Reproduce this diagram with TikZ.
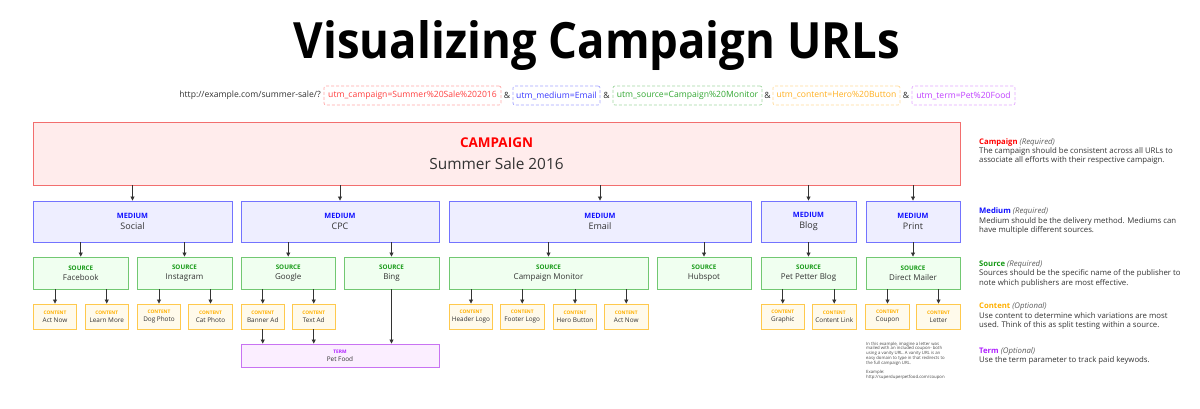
\documentclass[tikz,border=0pt]{standalone}
\usepackage{fontspec}
\setmainfont{Open Sans}
\usepackage{graphicx}
\usetikzlibrary{arrows.meta}
\definecolor{txt}{HTML}{333333}
\definecolor{campB}{HTML}{F26E6E}
\definecolor{campF}{HTML}{FFECEC}
\definecolor{campL}{HTML}{FF0000}
\definecolor{medB}{HTML}{7373FF}
\definecolor{medF}{HTML}{EEEEFF}
\definecolor{medL}{HTML}{1010FF}
\definecolor{srcB}{HTML}{72C872}
\definecolor{srcF}{HTML}{F0FFF0}
\definecolor{srcL}{HTML}{169A16}
\definecolor{conB}{HTML}{FFC94D}
\definecolor{conF}{HTML}{FFFAEB}
\definecolor{conL}{HTML}{FFB000}
\definecolor{termB}{HTML}{C873F2}
\definecolor{termF}{HTML}{FBEEFF}
\definecolor{termL}{HTML}{B020FF}
\definecolor{arrc}{HTML}{333333}
\definecolor{urlR}{HTML}{FF4040}
\definecolor{urlB}{HTML}{3A3AFF}
\definecolor{urlG}{HTML}{33A833}
\definecolor{urlO}{HTML}{FFB020}
\definecolor{urlP}{HTML}{C040FF}
\newcommand\blab[3]{{\fontsize{#2}{#2}\selectfont\bfseries\color{#1}#3}}
\newcommand\nhead[3]{{\fontsize{7.7}{9.3}\selectfont\bfseries\color{#1}#2} {\itshape\color{txt!80}(#3)}}
\begin{document}
\begin{tikzpicture}[x=1pt,y=-1pt,
  box/.style={draw, line width=0.9pt, inner sep=0pt, align=center, text=txt},
  campbox/.style={box, draw=campB, fill=campF, font=\fontsize{15.4}{22.3}\selectfont},
  medbox/.style={box, draw=medB, fill=medF, font=\fontsize{9}{11.7}\selectfont, minimum height=41pt},
  srcbox/.style={box, draw=srcB, fill=srcF, font=\fontsize{8}{10}\selectfont, minimum height=32pt},
  conbox/.style={box, draw=conB, fill=conF, font=\fontsize{6.4}{7.7}\selectfont, minimum width=43.5pt, minimum height=25pt},
  termbox/.style={box, draw=termB, fill=termF, font=\fontsize{6.4}{7.7}\selectfont},
  arr/.style={draw=arrc, line width=0.8pt, -{Triangle[length=4pt,width=4pt]}},
  urlbox/.style={draw=#1!45, text=#1, dash pattern=on 3pt off 2pt, line width=0.7pt, rounded corners=2pt, minimum height=19pt, inner sep=0pt, font=\fontsize{8.6}{10}\selectfont},
  urltxt/.style={text=txt, inner sep=0pt, font=\fontsize{8.6}{10}\selectfont},
  note/.style={anchor=north west, inner sep=0pt, align=left, text=txt, font=\fontsize{7.8}{9.3}\selectfont}
]
\useasboundingbox[fill=white] (0,0) rectangle (1200,409);

% title
\node[anchor=base, inner sep=0pt] (title) at (597,59) {\resizebox{606pt}{38pt}{\bfseries Visualizing Campaign URLs}};

% url line
\node[urltxt, anchor=east] (u0) at (321,95.5) {http://example.com/summer-sale/?};
\node[urlbox=urlR, minimum width=177pt] (u1) at (412.5,95.5) {utm\_campaign=Summer\%20Sale\%202016};
\node[urltxt] (a1) at (507,95.5) {\&};
\node[urlbox=urlB, minimum width=87pt] (u2) at (556.5,95.5) {utm\_medium=Email};
\node[urltxt] (a2) at (606.5,95.5) {\&};
\node[urlbox=urlG, minimum width=149pt] (u3) at (687.5,95.5) {utm\_source=Campaign\%20Monitor};
\node[urltxt] (a3) at (767.5,95.5) {\&};
\node[urlbox=urlO, minimum width=127pt] (u4) at (836.5,95.5) {utm\_content=Hero\%20Button};
\node[urltxt] (a4) at (906,95.5) {\&};
\node[urlbox=urlP, minimum width=103pt] (u5) at (963.5,95.5) {utm\_term=Pet\%20Food};

% campaign
\node[campbox, minimum width=927pt, minimum height=63pt] (camp) at (496.5,153.5)
  {\blab{campL}{13.5}{CAMPAIGN}\\Summer Sale 2016};

% mediums
\node[medbox, minimum width=199pt] (social) at (132.5,221.5) {\blab{medL}{7.3}{MEDIUM}\\Social};
\node[medbox, minimum width=198pt] (cpc) at (340,221.5) {\blab{medL}{7.3}{MEDIUM}\\CPC};
\node[medbox, minimum width=302pt] (email) at (600,221.5) {\blab{medL}{7.3}{MEDIUM}\\Email};
\node[medbox, minimum width=95pt] (blog) at (808.5,221.5) {\blab{medL}{7.3}{MEDIUM}\\Blog};
\node[medbox, minimum width=94pt] (print) at (913,221.5) {\blab{medL}{7.3}{MEDIUM}\\Print};

% sources
\node[srcbox, minimum width=95.5pt] (facebook) at (80.75,273) {\blab{srcL}{6.3}{SOURCE}\\Facebook};
\node[srcbox, minimum width=95pt] (instagram) at (184.5,273) {\blab{srcL}{6.3}{SOURCE}\\Instagram};
\node[srcbox, minimum width=94.5pt] (google) at (288.25,273) {\blab{srcL}{6.3}{SOURCE}\\Google};
\node[srcbox, minimum width=95pt] (bing) at (391.5,273) {\blab{srcL}{6.3}{SOURCE}\\Bing};
\node[srcbox, minimum width=199pt] (cmon) at (548.5,273) {\blab{srcL}{6.3}{SOURCE}\\Campaign Monitor};
\node[srcbox, minimum width=94pt] (hubspot) at (704,273) {\blab{srcL}{6.3}{SOURCE}\\Hubspot};
\node[srcbox, minimum width=95pt] (ppblog) at (808.5,273) {\blab{srcL}{6.3}{SOURCE}\\Pet Petter Blog};
\node[srcbox, minimum width=94pt] (dmail) at (913,273) {\blab{srcL}{6.3}{SOURCE}\\Direct Mailer};

% contents
\node[conbox] (c1) at (55,316.5) {\blab{conL}{4.8}{CONTENT}\\Act Now};
\node[conbox] (c2) at (106.75,316.5) {\blab{conL}{4.8}{CONTENT}\\Learn More};
\node[conbox] (c3) at (159,316.5) {\blab{conL}{4.8}{CONTENT}\\Dog Photo};
\node[conbox] (c4) at (210.5,316.5) {\blab{conL}{4.8}{CONTENT}\\Cat Photo};
\node[conbox] (c5) at (262.75,316.5) {\blab{conL}{4.8}{CONTENT}\\Banner Ad};
\node[conbox] (c6) at (313.75,316.5) {\blab{conL}{4.8}{CONTENT}\\Text Ad};
\node[conbox] (c7) at (471,316.5) {\blab{conL}{4.8}{CONTENT}\\Header Logo};
\node[conbox] (c8) at (522.25,316.5) {\blab{conL}{4.8}{CONTENT}\\Footer Logo};
\node[conbox] (c9) at (575,316.5) {\blab{conL}{4.8}{CONTENT}\\Hero Button};
\node[conbox] (c10) at (626.25,316.5) {\blab{conL}{4.8}{CONTENT}\\Act Now};
\node[conbox] (c11) at (782.75,316.5) {\blab{conL}{4.8}{CONTENT}\\Graphic};
\node[conbox] (c12) at (834.25,316.5) {\blab{conL}{4.8}{CONTENT}\\Content Link};
\node[conbox] (c13) at (887.5,316.5) {\blab{conL}{4.8}{CONTENT}\\Coupon};
\node[conbox] (c14) at (938.5,316.5) {\blab{conL}{4.8}{CONTENT}\\Letter};

% term
\node[termbox, minimum width=198pt, minimum height=23pt] (term) at (340,355.5) {\blab{termL}{4.8}{TERM}\\Pet Food};

% arrows campaign -> medium
\foreach \m in {social,cpc,email,blog,print}
  \draw[arr] (camp.south -| \m.north) -- (\m.north);
% medium -> source
\foreach \p/\s in {social/facebook,social/instagram,cpc/google,cpc/bing,email/cmon,email/hubspot,blog/ppblog,print/dmail}
  \draw[arr] (\p.south -| \s.north) -- (\s.north);
% source -> content
\foreach \p/\s in {facebook/c1,facebook/c2,instagram/c3,instagram/c4,google/c5,google/c6,cmon/c7,cmon/c8,cmon/c9,cmon/c10,ppblog/c11,ppblog/c12,dmail/c13,dmail/c14}
  \draw[arr] (\p.south -| \s.north) -- (\s.north);
% -> term
\foreach \s in {c5,c6,bing}
  \draw[arr] (\s.south) -- (\s.south |- term.north);

% notes
\node[note] (n1) at (979,138.2) {\nhead{campL}{Campaign}{Required}\\The campaign should be consistent across all URLs to\\associate all efforts with their respective campaign.};
\node[note] (n2) at (979,207.6) {\nhead{medL}{Medium}{Required}\\Medium should be the delivery method. Mediums can\\have multiple different sources.};
\node[note] (n3) at (979,260.5) {\nhead{srcL}{Source}{Required}\\Sources should be the specific name of the publisher to\\note which publishers are most effective.};
\node[note] (n4) at (979,302.8) {\nhead{conL}{Content}{Optional}\\Use content to determine which variations are most\\used. Think of this as split testing within a source.};
\node[note] (n5) at (979,347.4) {\nhead{termL}{Term}{Optional}\\Use the term parameter to track paid keywods.};

\node[anchor=north west, inner sep=0pt, align=left, text=txt!90, font=\fontsize{4.3}{4.7}\selectfont] (small) at (866,341.8)
 {In this example, imagine a letter was\\mailed with an included coupon- both\\using a vanity URL. A vanity URL is an\\easy domain to type in that redirects to\\the full campaign URL.\\[4.7pt]Example:\\http://superduperpetfood.com/coupon};
\end{tikzpicture}
\end{document}
